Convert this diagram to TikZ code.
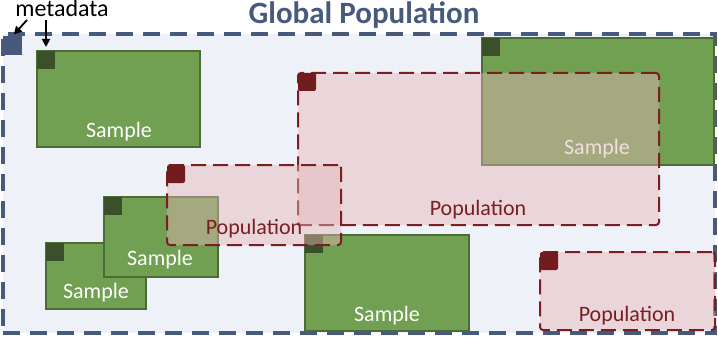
\documentclass[tikz,border=0pt]{standalone}
\usepackage{fontspec}
\setmainfont{Carlito}
\usetikzlibrary{arrows.meta}
\definecolor{bgfill}{HTML}{EEF2F8}
\definecolor{frameblue}{HTML}{475A7D}
\definecolor{sgreen}{HTML}{71A052}
\definecolor{sgreenline}{HTML}{4C6B35}
\definecolor{sgreendark}{HTML}{3A502A}
\definecolor{ppink}{HTML}{E6B5B7}
\definecolor{pred}{HTML}{7A1E22}
\definecolor{pcorner}{HTML}{721C1F}
\begin{document}
\begin{tikzpicture}[x=1pt,y=-1pt,
 box/.style={rectangle, inner sep=0pt, outer sep=0pt, anchor=north west},
 frame/.style={box, draw=frameblue, fill=bgfill, line width=3.5pt, dash pattern=on 17pt off 10pt},
 samplebox/.style={box, fill=sgreen, draw=sgreenline, line width=1.2pt},
 samplecorner/.style={box, fill=sgreendark, minimum width=18pt, minimum height=18pt},
 popbox/.style={box, fill=ppink, fill opacity=0.45, draw=pred, draw opacity=1, line width=2pt, dash pattern=on 15pt off 7pt, rounded corners=3pt},
 popcorner/.style={box, fill=pcorner, minimum width=18pt, minimum height=18pt, rounded corners=2pt},
 samplelabel/.style={anchor=base, text=white, font=\fontsize{22}{25}\selectfont, inner sep=0pt},
 poplabel/.style={anchor=base, text=pred, font=\fontsize{22}{25}\selectfont, inner sep=0pt},
 arr/.style={line width=1.8pt, -{Triangle[length=8pt,width=8pt]}}]
\useasboundingbox (0,0) rectangle (718,337);
% global frame
\node[frame, minimum width=712pt, minimum height=299pt] (global) at (3,34) {};
\node[anchor=base, text=frameblue, inner sep=0pt, font=\fontsize{31}{36}\selectfont\bfseries] (title) at (364,24) {Global Population};
\node[box, fill=frameblue, minimum width=19pt, minimum height=19pt] (gsq) at (3,36) {};
\node[anchor=base, inner sep=0pt, font=\fontsize{24}{27}\selectfont] (meta) at (62,17) {metadata};
% samples
\node[samplebox, minimum width=163pt, minimum height=96pt] (s1) at (37,51) {};
\node[samplecorner] (s1c) at (37,51) {};
\node[samplelabel] (s1l) at (119,137) {Sample};
\node[samplebox, minimum width=232pt, minimum height=127pt] (s2) at (482,38) {};
\node[samplecorner] (s2c) at (482,38) {};
\node[samplelabel] (s2l) at (597,154) {Sample};
\node[samplebox, minimum width=100pt, minimum height=66pt] (s4) at (46,243) {};
\node[samplecorner] (s4c) at (46,243) {};
\node[samplelabel] (s4l) at (96,298) {Sample};
\node[samplebox, minimum width=114pt, minimum height=80pt] (s3) at (104,197) {};
\node[samplecorner] (s3c) at (104,197) {};
\node[samplelabel] (s3l) at (160,265) {Sample};
\node[samplebox, minimum width=164pt, minimum height=96pt] (s5) at (305,235) {};
\node[samplecorner] (s5c) at (305,235) {};
\node[samplelabel] (s5l) at (387,321) {Sample};
% populations
\node[popbox, minimum width=361pt, minimum height=152pt] (p1) at (298,73) {};
\node[popcorner] (p1c) at (298,73) {};
\node[poplabel] (p1l) at (478,215) {Population};
\node[popbox, minimum width=174pt, minimum height=80pt] (p2) at (167,165) {};
\node[popcorner] (p2c) at (167,165) {};
\node[poplabel] (p2l) at (254,234) {Population};
\node[popbox, minimum width=175pt, minimum height=78pt] (p3) at (540,252) {};
\node[popcorner] (p3c) at (540,252) {};
\node[poplabel] (p3l) at (627,321) {Population};
% metadata arrows
\coordinate (a1) at (27,20);
\coordinate (a2) at (46,20);
\draw[arr, shorten >=2pt] (a1) -- (gsq.north);
\draw[arr, shorten >=4pt] (a2) -- (s1c.north);
\end{tikzpicture}
\end{document}
